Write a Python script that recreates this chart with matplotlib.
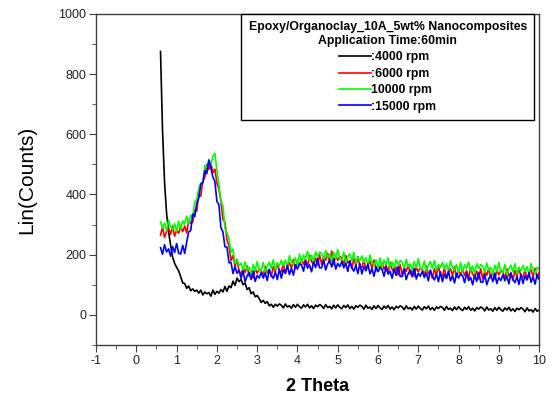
import numpy as np
import matplotlib
matplotlib.use("Agg")
import matplotlib.pyplot as plt
from matplotlib.ticker import MultipleLocator

plt.rcParams['font.family'] = ['Liberation Sans', 'DejaVu Sans']
plt.rcParams['axes.unicode_minus'] = False

# XRD scan: 2-theta from 0.60 to 10.00 in 0.05 steps
theta_start = 0.60
theta_step = 0.05

counts_4000 = [
    875, 612, 441, 338, 276, 232, 192, 171, 158, 146,
    127, 106, 104, 88, 96, 80, 86, 78, 82, 72,
    82, 66, 76, 70, 74, 62, 82, 68, 78, 72,
    84, 76, 94, 78, 96, 90, 112, 98, 122, 110,
    118, 100, 106, 84, 90, 70, 76, 60, 64, 54,
    41, 48, 38, 44, 30, 35, 25, 35, 29, 36,
    32, 23, 36, 26, 30, 22, 34, 25, 35, 27,
    22, 33, 26, 35, 23, 30, 21, 32, 27, 34,
    30, 21, 34, 24, 28, 20, 32, 23, 33, 25,
    20, 31, 24, 33, 21, 28, 19, 30, 25, 32,
    28, 19, 32, 22, 26, 18, 30, 21, 31, 23,
    18, 29, 22, 31, 19, 26, 17, 28, 23, 30,
    26, 17, 30, 20, 24, 16, 28, 19, 29, 21,
    16, 27, 20, 29, 17, 24, 15, 26, 21, 28,
    24, 15, 28, 18, 22, 14, 26, 17, 27, 19,
    14, 25, 18, 27, 15, 22, 13, 24, 19, 26,
    22, 13, 26, 16, 20, 12, 24, 15, 25, 17,
    12, 23, 16, 25, 13, 20, 11, 22, 17, 24,
    19, 10, 23, 13, 17, 9, 21, 12, 16,
]

counts_6000 = [
    265, 291, 257, 277, 289, 267, 295, 261, 281, 271,
    294, 276, 295, 272, 315, 303, 308, 348, 344, 401,
    394, 445, 456, 500, 483, 506, 472, 484, 438, 417,
    378, 316, 308, 249, 229, 180, 197, 162, 184, 145,
    134, 157, 141, 162, 128, 146, 122, 154, 138, 152,
    148, 128, 161, 139, 150, 127, 160, 142, 172, 142,
    143, 171, 138, 160, 174, 154, 184, 152, 174, 166,
    186, 168, 185, 160, 198, 177, 168, 189, 164, 199,
    168, 194, 181, 205, 173, 212, 166, 198, 181, 194,
    189, 166, 197, 172, 180, 155, 186, 164, 193, 160,
    158, 183, 148, 167, 178, 155, 182, 147, 166, 155,
    172, 151, 166, 139, 174, 151, 140, 159, 132, 166,
    133, 158, 144, 167, 135, 152, 128, 159, 143, 156,
    152, 129, 161, 136, 146, 121, 153, 132, 162, 130,
    129, 155, 121, 141, 153, 131, 159, 125, 145, 135,
    151, 131, 147, 121, 157, 135, 125, 145, 119, 153,
    119, 145, 131, 155, 123, 141, 117, 149, 133, 147,
    143, 121, 153, 129, 139, 115, 147, 127, 157, 125,
    125, 151, 117, 137, 149, 127, 155, 121, 141,
]

counts_10000 = [
    309, 289, 305, 279, 315, 293, 283, 303, 277, 311,
    284, 312, 301, 328, 303, 331, 324, 376, 383, 420,
    438, 441, 496, 489, 512, 498, 527, 536, 480, 432,
    380, 361, 287, 272, 254, 207, 218, 171, 181, 164,
    171, 146, 176, 150, 159, 135, 167, 147, 177, 146,
    147, 174, 141, 162, 175, 154, 183, 150, 171, 162,
    182, 164, 182, 158, 196, 176, 168, 190, 166, 202,
    172, 199, 186, 211, 180, 199, 176, 209, 193, 208,
    204, 182, 214, 191, 201, 177, 208, 188, 217, 184,
    183, 208, 173, 192, 203, 180, 207, 172, 191, 180,
    196, 175, 190, 163, 198, 175, 164, 183, 156, 189,
    156, 182, 166, 189, 158, 176, 152, 183, 166, 180,
    175, 153, 184, 160, 169, 146, 177, 157, 187, 154,
    153, 179, 145, 165, 177, 154, 181, 148, 167, 157,
    174, 154, 170, 144, 179, 157, 147, 167, 140, 174,
    141, 167, 153, 176, 144, 162, 138, 170, 153, 167,
    162, 140, 172, 147, 157, 133, 165, 144, 174, 142,
    141, 167, 133, 153, 165, 142, 170, 136, 156, 146,
    164, 144, 160, 134, 170, 148, 138, 158, 150,
]

counts_15000 = [
    223, 201, 233, 209, 219, 195, 227, 207, 237, 205,
    202, 231, 204, 242, 276, 280, 335, 326, 371, 388,
    434, 439, 478, 469, 515, 488, 458, 443, 377, 366,
    289, 275, 226, 225, 173, 174, 137, 160, 138, 148,
    122, 146, 110, 129, 140, 117, 145, 111, 131, 122,
    141, 122, 139, 114, 151, 130, 121, 142, 117, 152,
    122, 150, 138, 164, 134, 154, 132, 166, 152, 168,
    166, 145, 178, 155, 166, 143, 176, 157, 187, 156,
    156, 182, 149, 169, 181, 159, 186, 152, 171, 160,
    177, 156, 171, 144, 179, 156, 145, 164, 137, 170,
    136, 161, 146, 169, 136, 153, 128, 159, 143, 156,
    151, 128, 159, 135, 145, 121, 152, 131, 160, 128,
    127, 152, 117, 137, 148, 126, 154, 119, 138, 128,
    145, 124, 139, 113, 149, 127, 116, 136, 110, 143,
    110, 135, 121, 145, 113, 130, 106, 138, 122, 135,
    130, 107, 139, 114, 124, 100, 132, 111, 141, 109,
    108, 134, 100, 120, 132, 110, 138, 104, 124, 114,
    133, 113, 129, 103, 139, 117, 107, 127, 101, 135,
    104, 130, 116, 140, 108, 126, 102, 134, 118,
]

labels = [":4000 rpm", ":6000 rpm", "10000 rpm", ":15000 rpm"]
colors = ["black", "#ff0000", "#00ff00", "#0000ff"]
series = [counts_4000, counts_6000, counts_10000, counts_15000]

fig = plt.figure(figsize=(5.49, 3.96), dpi=100)
ax = fig.add_axes([0.175, 0.129, 0.807, 0.836])

for vals, c, lab in zip(series, colors, labels):
    x = theta_start + theta_step * np.arange(len(vals))
    ax.plot(x, vals, color=c, lw=1.2, label=lab)

ax.set_xlim(-1, 10)
ax.set_ylim(-100, 1000)
ax.xaxis.set_major_locator(MultipleLocator(1))
ax.xaxis.set_minor_locator(MultipleLocator(0.5))
ax.yaxis.set_major_locator(MultipleLocator(200))
ax.yaxis.set_minor_locator(MultipleLocator(100))
ax.tick_params(which='both', direction='out', colors='#404040', labelcolor='#222222',
               labelsize=9, pad=2)
ax.tick_params(which='major', length=5)
ax.tick_params(which='minor', length=3)
for s in ax.spines.values():
    s.set_color('#404040')
    s.set_linewidth(1.0)

ax.set_xlabel("2 Theta", fontsize=13, fontweight='bold', labelpad=8)
ax.set_ylabel("Lin(Counts)", fontsize=15, labelpad=16)

leg = ax.legend(title="Epoxy/Organoclay_10A_5wt% Nanocomposites\nApplication Time:60min",
                title_fontproperties={'weight': 'bold', 'size': 8.8},
                prop={'weight': 'bold', 'size': 8.8},
                loc='upper right', bbox_to_anchor=(0.989, 1.0), borderaxespad=0,
                alignment='center', fancybox=False, framealpha=1, edgecolor='black',
                handlelength=2.6, handletextpad=0.0, labelspacing=0.36, borderpad=0.6)
leg.get_frame().set_linewidth(1.0)
leg.get_title().set_multialignment('center')

fig.savefig("out.png", dpi=100)
